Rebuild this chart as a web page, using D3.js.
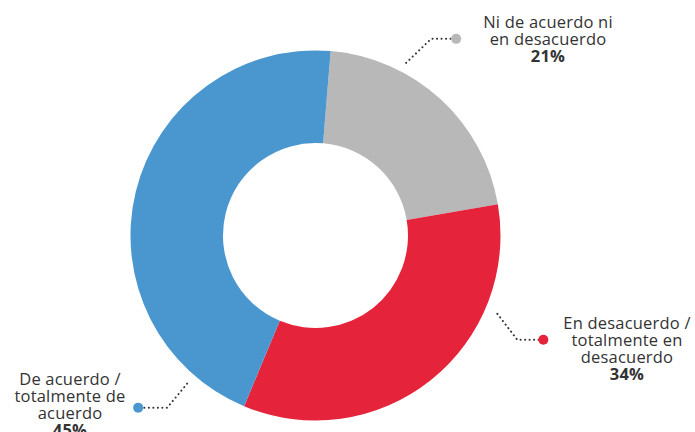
<!DOCTYPE html>
<html>
<head>
<meta charset="utf-8">
<script src="https://cdn.jsdelivr.net/npm/d3@7"></script>
<style>
  html, body { margin: 0; padding: 0; background: #fff; }
  svg { display: block; }
  text { font-family: "Open Sans", "Noto Sans", sans-serif; fill: #333; }
</style>
</head>
<body>
<svg id="chart" width="695" height="432"></svg>
<script>
// Survey answer shares (%)
const categories = ["Ni de acuerdo ni en desacuerdo", "En desacuerdo / totalmente en desacuerdo", "De acuerdo / totalmente de acuerdo"];
const values = [21, 34, 45];
const labelLines = [
  ["Ni de acuerdo ni", "en desacuerdo"],
  ["En desacuerdo /", "totalmente en", "desacuerdo"],
  ["De acuerdo /", "totalmente de", "acuerdo"]
];
const colors = ["#b8b8b8", "#e5233b", "#4a96cf"];

const svg = d3.select("#chart");
const cx = 315.5, cy = 235.5;
const outerR = 185, innerR = 92.5;
const startOffset = 4.7 * Math.PI / 180;

const pie = d3.pie().sort(null).value(d => d)
  .startAngle(startOffset).endAngle(startOffset + 2 * Math.PI);
const arcs = pie(values);
const arc = d3.arc().innerRadius(innerR).outerRadius(outerR);

const g = svg.append("g").attr("transform", `translate(${cx},${cy})`);
g.selectAll("path").data(arcs).join("path")
  .attr("d", arc)
  .attr("fill", (d, i) => colors[i]);

// Callout layout: leader start angle (deg), elbow offset, dot offset, text anchor
const callouts = [
  { ang: 27.7, r: 195, elbow: [25, -24], dotDx: 25, text: [548, 28] },
  { ang: 113.3, r: 198, elbow: [20, 26], dotDx: 26, text: [627, 329] },
  { ang: 220.9, r: 196, elbow: [-20, 24], dotDx: -29, text: [70, 385] }
];
const lineH = 17;

callouts.forEach((c, i) => {
  const a = c.ang * Math.PI / 180;
  const x0 = cx + c.r * Math.sin(a), y0 = cy - c.r * Math.cos(a);
  const x1 = x0 + c.elbow[0], y1 = y0 + c.elbow[1];
  const x2 = x1 + c.dotDx, y2 = y1;
  svg.append("path")
    .attr("d", d3.line()([[x0, y0], [x1, y1], [x2, y2]]))
    .attr("fill", "none")
    .attr("stroke", "#333")
    .attr("stroke-width", 2)
    .attr("stroke-linecap", "round")
    .attr("stroke-dasharray", "0.1,4.4");
  svg.append("circle").attr("cx", x2).attr("cy", y2).attr("r", 5).attr("fill", colors[i]);

  const t = svg.append("text")
    .attr("text-anchor", "middle")
    .attr("font-size", 16.5)
    .attr("letter-spacing", 0.2);
  labelLines[i].forEach((ln, k) => {
    t.append("tspan").attr("x", c.text[0]).attr("y", c.text[1] + k * lineH).text(ln);
  });
  t.append("tspan").attr("x", c.text[0]).attr("y", c.text[1] + labelLines[i].length * lineH)
    .attr("font-weight", "bold").text(values[i] + "%");
});
</script>
</body>
</html>
